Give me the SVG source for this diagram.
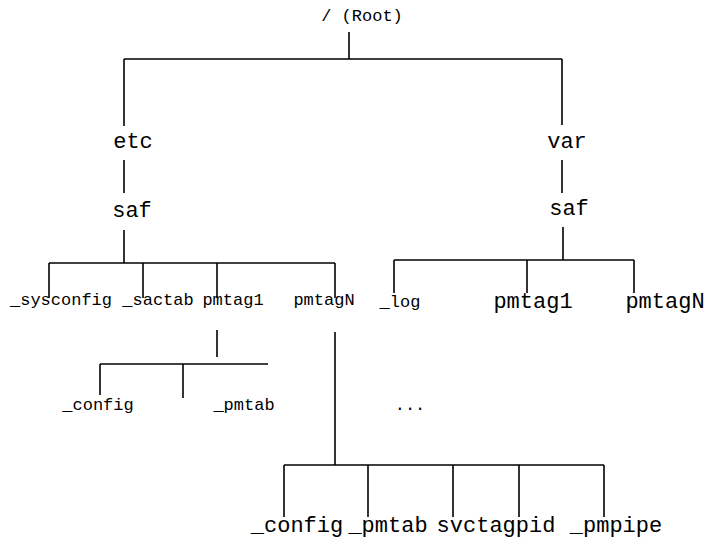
<svg xmlns="http://www.w3.org/2000/svg" width="711" height="539" viewBox="0 0 711 539">
<style>
text{font-family:"Liberation Mono","Courier New",monospace;fill:#000;text-anchor:middle}
.s{font-size:17px}
.m{font-size:22px}
.c line{stroke:#000;stroke-width:1.6}
</style>
<rect width="711" height="539" fill="#fff"/>
<g class="c" id="connectors">
<line x1="349" y1="32" x2="349" y2="59"/>
<line x1="124" y1="59" x2="562" y2="59"/>
<line x1="124" y1="59" x2="124" y2="126"/>
<line x1="562" y1="59" x2="562" y2="125"/>
<line x1="124" y1="160" x2="124" y2="193"/>
<line x1="562" y1="160" x2="562" y2="193"/>
<line x1="124" y1="230" x2="124" y2="263"/>
<line x1="49" y1="263" x2="335" y2="263"/>
<line x1="49" y1="263" x2="49" y2="298"/>
<line x1="143" y1="263" x2="143" y2="298"/>
<line x1="217" y1="263" x2="217" y2="298"/>
<line x1="335" y1="263" x2="335" y2="298"/>
<line x1="563" y1="227" x2="563" y2="260"/>
<line x1="394" y1="260" x2="634" y2="260"/>
<line x1="394" y1="260" x2="394" y2="293"/>
<line x1="527" y1="260" x2="527" y2="293"/>
<line x1="634" y1="260" x2="634" y2="293"/>
<line x1="217" y1="330" x2="217" y2="357"/>
<line x1="100" y1="364" x2="268" y2="364"/>
<line x1="100" y1="364" x2="100" y2="395"/>
<line x1="183" y1="364" x2="183" y2="398"/>
<line x1="335" y1="332" x2="335" y2="465"/>
<line x1="284" y1="465" x2="604" y2="465"/>
<line x1="284" y1="465" x2="284" y2="517"/>
<line x1="368" y1="465" x2="368" y2="517"/>
<line x1="453" y1="465" x2="453" y2="517"/>
<line x1="519" y1="465" x2="519" y2="517"/>
<line x1="604" y1="465" x2="604" y2="517"/>
</g>
<g id="root"><text class="s" x="362" y="21">/ (Root)</text></g>
<g id="etc"><text class="m" x="133" y="148">etc</text></g>
<g id="var"><text class="m" x="567" y="148">var</text></g>
<g id="etc-saf"><text class="m" x="132" y="217">saf</text></g>
<g id="var-saf"><text class="m" x="569" y="215">saf</text></g>
<g id="sysconfig"><text class="s" x="61" y="305">_sysconfig</text></g>
<g id="sactab"><text class="s" x="158" y="305">_sactab</text></g>
<g id="etc-pmtag1"><text class="s" x="233" y="305">pmtag1</text></g>
<g id="etc-pmtagN"><text class="s" x="324" y="305">pmtagN</text></g>
<g id="log"><text class="s" x="400" y="307">_log</text></g>
<g id="var-pmtag1"><text class="m" x="533" y="308">pmtag1</text></g>
<g id="var-pmtagN"><text class="m" x="665" y="308">pmtagN</text></g>
<g id="p1-config"><text class="s" x="98" y="410">_config</text></g>
<g id="p1-pmtab"><text class="s" x="244" y="410">_pmtab</text></g>
<g id="ellipsis"><text class="s" x="410" y="410">...</text></g>
<g id="pN-config"><text class="m" x="297" y="532">_config</text></g>
<g id="pN-pmtab"><text class="m" x="388" y="532">_pmtab</text></g>
<g id="svctagpid"><text class="m" x="496" y="532">svctagpid</text></g>
<g id="pmpipe"><text class="m" x="616" y="532">_pmpipe</text></g>
</svg>
